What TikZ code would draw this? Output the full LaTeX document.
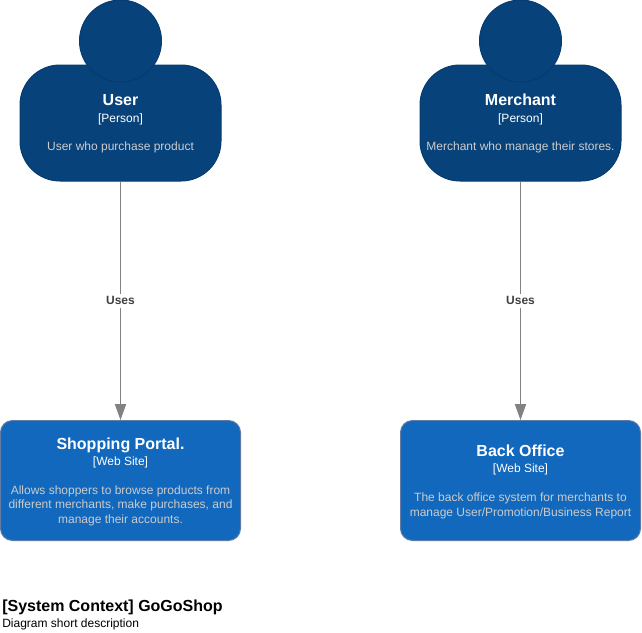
\documentclass[tikz,border=0pt]{standalone}
\usepackage{fontspec}
\setmainfont{Liberation Sans}
\usetikzlibrary{arrows.meta}
\definecolor{personblue}{HTML}{08427B}
\definecolor{personline}{HTML}{073B6F}
\definecolor{systemblue}{HTML}{1168BD}
\definecolor{systemline}{HTML}{5F7BA8}
\definecolor{usesgray}{HTML}{828282}
\definecolor{usestext}{HTML}{404040}
\definecolor{desctext}{HTML}{CCCCCC}
\tikzset{
  personbody/.style={draw=personline, fill=personblue, line width=0.75pt, rounded corners=30pt, minimum width=150.75pt, minimum height=87pt, inner sep=0pt},
  personhead/.style={circle, draw=personline, fill=personblue, line width=0.75pt, minimum size=61.5pt, inner sep=0pt},
  systembox/.style={draw=systemline, fill=systemblue, line width=0.75pt, rounded corners=9pt, minimum width=180pt, minimum height=90pt, inner sep=0pt},
  titletext/.style={anchor=base, text=white, font=\bfseries\fontsize{12}{14}\selectfont, inner sep=0pt},
  kindtext/.style={anchor=base, text=white, font=\fontsize{9}{11}\selectfont, inner sep=0pt},
  desctext/.style={anchor=base, text=desctext, align=center, font=\fontsize{9}{10.9}\selectfont, inner sep=0pt},
  useslabel/.style={fill=white, text=usestext, font=\bfseries\fontsize{9}{11}\selectfont, inner sep=2pt},
  usesarrow/.style={draw=usesgray, line width=0.75pt, -{Triangle[length=12pt, width=8.5pt, fill=usesgray]}}
}
\begin{document}
\begin{tikzpicture}[x=0.75pt, y=-0.75pt]
  \useasboundingbox (0,0) rectangle (642,632);

  % People
  \node[personbody] (userbody) at (120.5,123) {};
  \node[personhead] (userhead) at (120.5,41) {};
  \node[titletext] (usertitle) at (120.5,105) {User};
  \node[kindtext] (userkind) at (120.5,122) {[Person]};
  \node[desctext] (userdesc) at (120.5,150) {User who purchase product};

  \node[personbody] (merchantbody) at (520.5,123) {};
  \node[personhead] (merchanthead) at (520.5,41) {};
  \node[titletext] (merchanttitle) at (520.5,105) {Merchant};
  \node[kindtext] (merchantkind) at (520.5,122) {[Person]};
  \node[desctext] (merchantdesc) at (520.5,150) {Merchant who manage their stores.};

  % Systems
  \node[systembox] (portal) at (120.5,480.5) {};
  \node[titletext] (portaltitle) at (120.5,449) {Shopping Portal.};
  \node[kindtext] (portalkind) at (120.5,465) {[Web Site]};
  \node[desctext] (portaldesc) at (120.5,523.5) {Allows shoppers to browse products from\\different merchants, make purchases, and\\manage their accounts.};

  \node[systembox] (office) at (520.5,480.5) {};
  \node[titletext] (officetitle) at (520.5,456) {Back Office};
  \node[kindtext] (officekind) at (520.5,472) {[Web Site]};
  \node[desctext] (officedesc) at (520.5,516) {The back office system for merchants to\\manage User/Promotion/Business Report};

  % Connectors
  \draw[usesarrow] (userbody) -- node[useslabel] (useruses) {Uses} (portal);
  \draw[usesarrow] (merchantbody) -- node[useslabel] (merchantuses) {Uses} (office);

  % Footer
  \node[anchor=base west, inner sep=0pt, font=\bfseries\fontsize{12}{14}\selectfont] (contexttitle) at (2,611) {[System Context] GoGoShop};
  \node[anchor=base west, inner sep=0pt, font=\fontsize{9}{11}\selectfont] (contextdesc) at (2,627) {Diagram short description};
\end{tikzpicture}
\end{document}
